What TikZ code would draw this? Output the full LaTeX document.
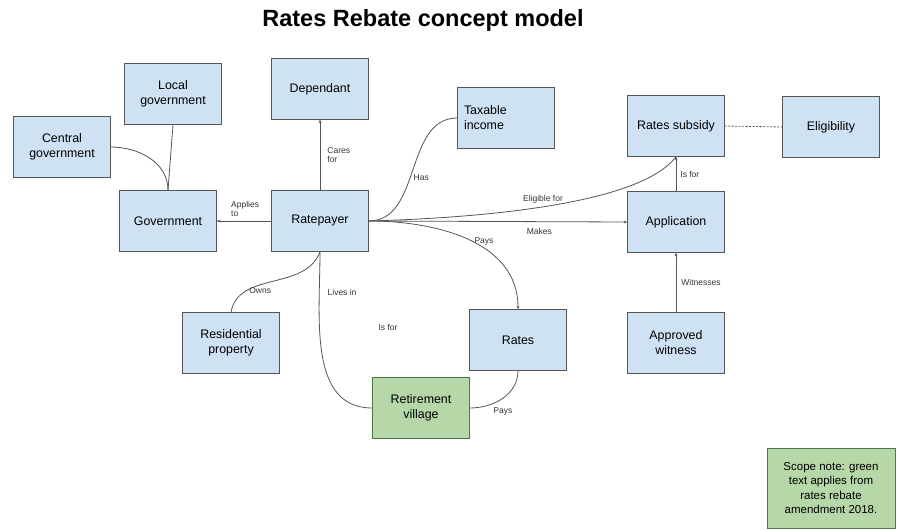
\documentclass[tikz,border=0pt]{standalone}
\usepackage{fontspec}
\setmainfont{Liberation Sans}
\usetikzlibrary{positioning, arrows.meta}

\definecolor{conceptblue}{HTML}{CFE2F3}
\definecolor{conceptgreen}{HTML}{B6D7A8}
\definecolor{linegray}{HTML}{555555}

\begin{document}
\begin{tikzpicture}[x=1pt, y=-1pt, >={Stealth[length=3.5pt, width=3pt]},
  concept/.style={draw=linegray, fill=conceptblue, minimum width=97pt, minimum height=61pt,
    align=center, inner sep=2pt, font=\fontsize{12.4}{15}\selectfont},
  newconcept/.style={concept, fill=conceptgreen, draw=green!25!black!70},
  rel/.style={draw=linegray, line width=0.8pt},
  lbl/.style={font=\fontsize{8.5}{9.5}\selectfont, align=left, inner sep=1pt, text=black!80}]
\useasboundingbox (0,0) rectangle (897,530);

\node[font=\bfseries\fontsize{23.5}{26}\selectfont] (title) at (423,20) {Rates Rebate concept model};

% government side
\node[concept] (localgov) at (173,94) {Local\\government};
\node[concept] (centralgov) at (62,147) {Central\\government};
\node[concept] (gov) at (168,221) {Government};

% ratepayer and what hangs off it
\node[concept] (dependant) at (320,89) {Dependant};
\node[concept] (ratepayer) at (320,221) {Ratepayer};
\node[concept, text width=84pt, align=left] (income) at (506,118) {Taxable\\income};
\node[concept] (property) at (231,343) {Residential\\property};
\node[concept] (rates) at (518,340) {Rates};
\node[newconcept] (village) at (421,408) {Retirement\\village};

% subsidy side
\node[concept] (subsidy) at (676,126) {Rates subsidy};
\node[concept] (eligibility) at (831,127) {Eligibility};
\node[concept] (application) at (676,222) {Application};
\node[concept] (witness) at (676,343) {Approved\\witness};

\node[lbl] (isfor) at (388,327) {Is for};

\node[newconcept, minimum width=128pt, minimum height=80pt, font=\fontsize{11.5}{14.4}\selectfont] (scope) at (831,488)
  {Scope note: green\\text applies from\\rates rebate\\amendment 2018.};

% relations
\draw[rel] (localgov.south) -- (gov.north);
\draw[rel] (centralgov.east) to[out=0, in=90] (gov.north);
\draw[rel, ->] (ratepayer.west) -- node[lbl, above=3pt, pos=0.48] {Applies\\to} (gov.east);
\draw[rel, ->] (ratepayer.north) -- node[lbl, right=6pt] {Cares\\for} (dependant.south);
\draw[rel] (ratepayer.east) to[out=0, in=180] node[lbl, pos=0.45, right=2pt] {Has} (income.west);
\draw[rel] (ratepayer.east) .. controls +(110,-3) and +(-36,48) .. node[lbl, pos=0.48, above=2pt] {Eligible for} (subsidy.south);
\draw[rel, ->] (ratepayer.east) -- node[lbl, below=5pt, pos=0.66] {Makes} (application.west);
\draw[rel, ->] (ratepayer.east) to[out=0, in=90] node[lbl, pos=0.52, right=1pt] {Pays} (rates.north);
\draw[rel] (ratepayer.south) to[out=-110, in=80] node[lbl, pos=0.75, right=2pt] {Owns} (property.north);
\draw[rel] (ratepayer.south) to[out=-90, in=180] node[lbl, pos=0.2, right=7pt] {Lives in} (village.west);
\draw[rel] (village.east) to[out=0, in=-90] node[lbl, pos=0.3, below right=2pt] {Pays} (rates.south);
\draw[rel, ->] (application.north) -- node[lbl, right=3pt] {Is for} (subsidy.south);
\draw[rel, ->] (witness.north) -- node[lbl, right=4pt] {Witnesses} (application.south);
\draw[rel, dash pattern=on 2pt off 1.5pt] (subsidy.east) -- (eligibility.west);
\end{tikzpicture}
\end{document}
